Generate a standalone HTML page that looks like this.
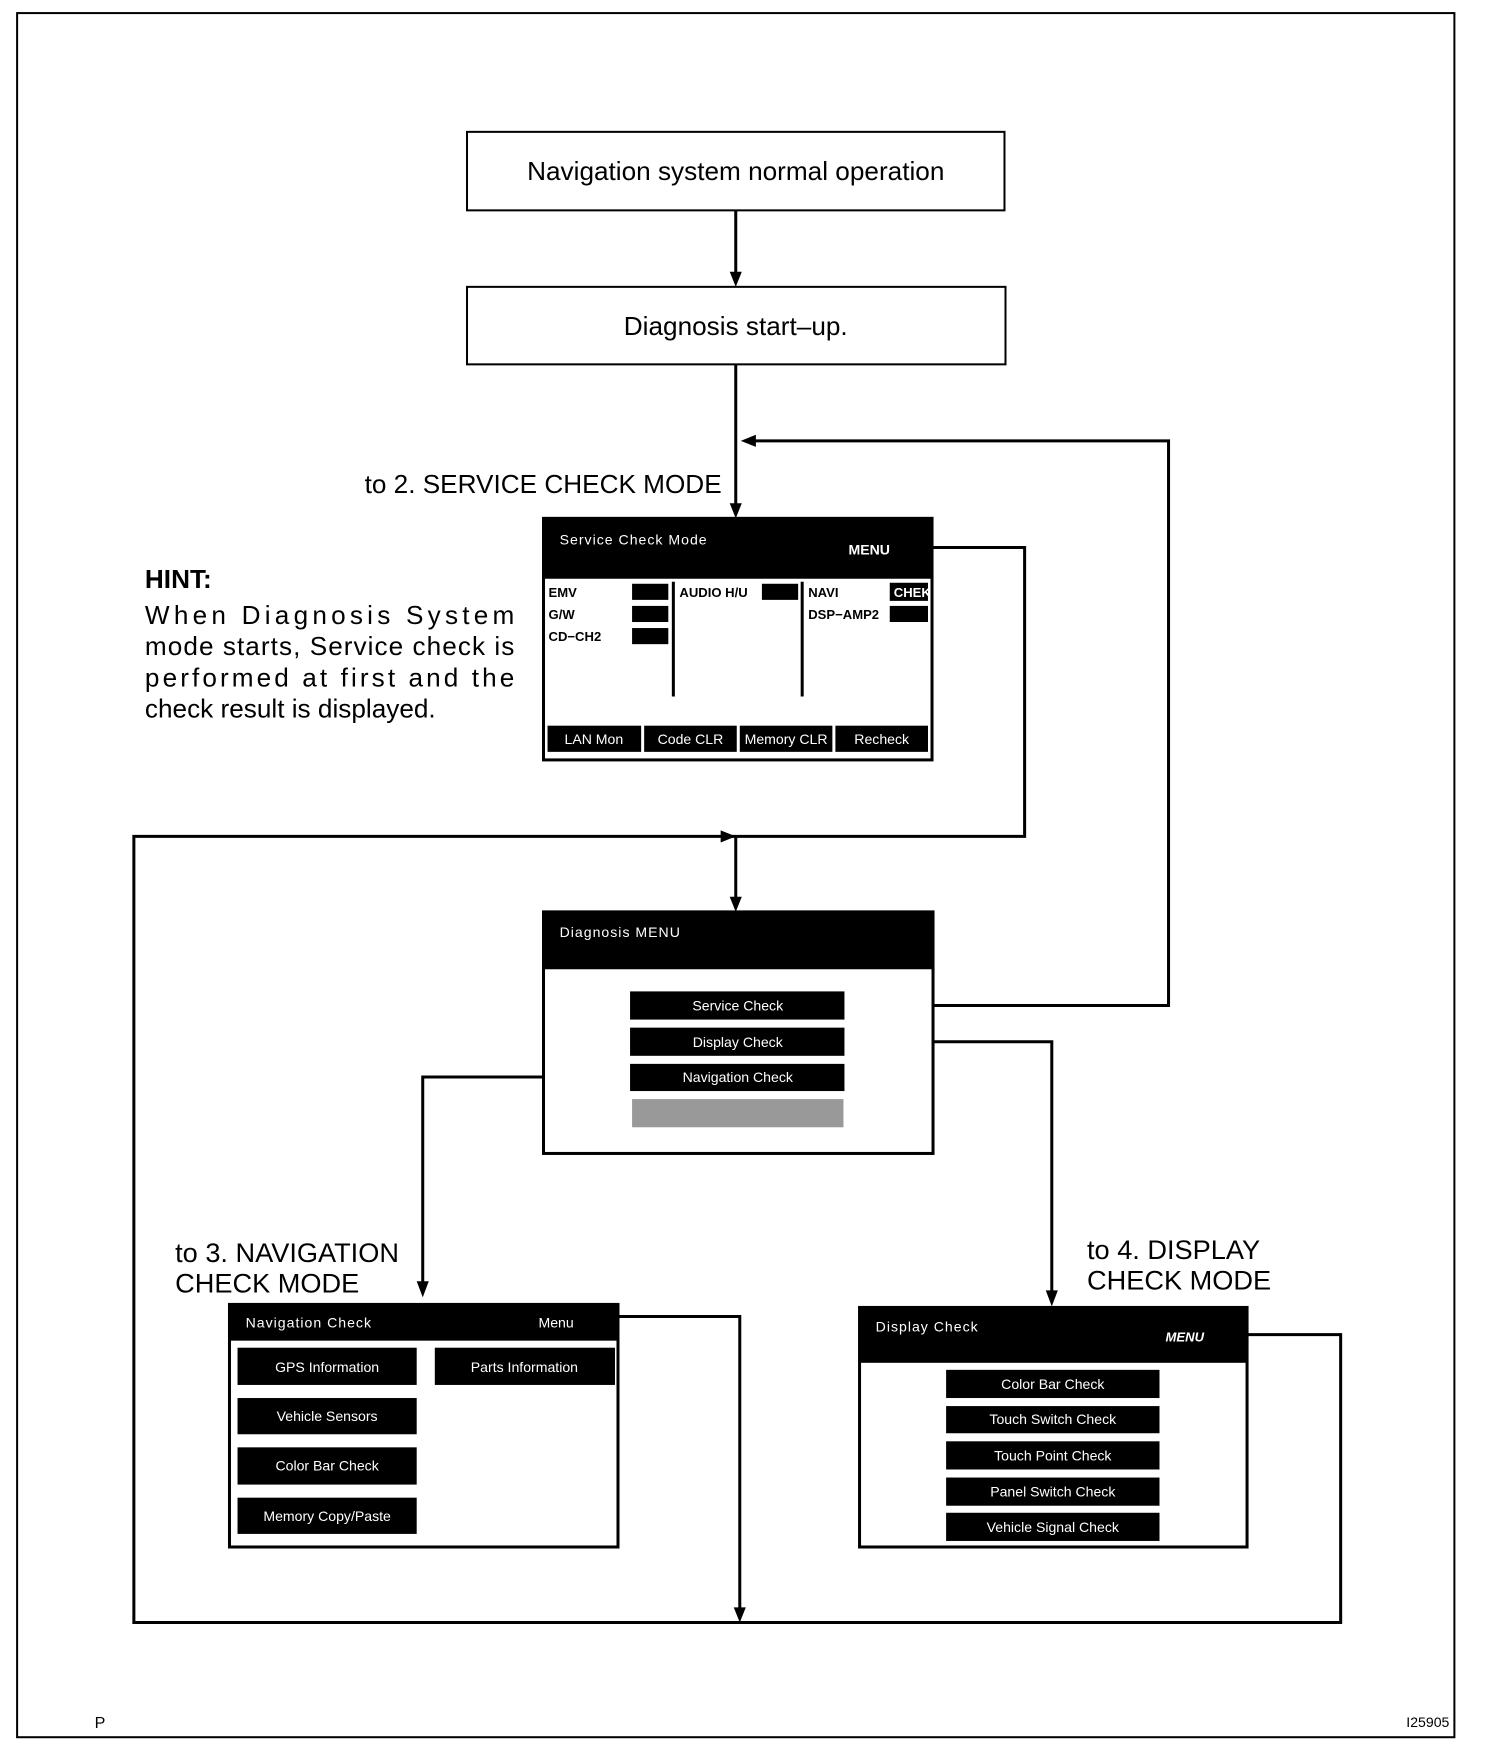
<!DOCTYPE html>
<html><head><meta charset="utf-8"><style>
html,body{margin:0;padding:0;background:#fff;}
svg{display:block;}
text{font-family:"Liberation Sans",sans-serif;}
</style></head><body>
<svg width="1504" height="1754" viewBox="0 0 1504 1754" xmlns="http://www.w3.org/2000/svg">
<g transform="scale(1.0065)">
<rect x="17" y="13" width="1428" height="1713" fill="none" stroke="#000" stroke-width="2"/>

<rect x="464" y="131" width="534" height="78" fill="#fff" stroke="#000" stroke-width="2"/>
<text x="731" y="179" font-size="26" text-anchor="middle">Navigation system normal operation</text>
<rect x="464" y="285" width="535" height="77" fill="#fff" stroke="#000" stroke-width="2"/>
<text x="731" y="333" font-size="26" text-anchor="middle">Diagnosis start–up.</text>

<g stroke="#000" stroke-width="3" fill="none">
<line x1="731" y1="209" x2="731" y2="272"/>
<line x1="731" y1="362" x2="731" y2="502"/>
<polyline points="839,999 1161,999 1161,438 750,438"/>
<polyline points="926,544 1018,544 1018,831 133,831 133,1612 1332,1612 1332,1326 1239,1326"/>
<line x1="731" y1="831" x2="731" y2="893"/>
<polyline points="614,1308 735,1308 735,1598"/>
<polyline points="839,1035 1045,1035 1045,1284"/>
<polyline points="626,1070 420,1070 420,1274"/>
</g>
<g fill="#000">
<polygon points="725,270 737,270 731,285"/>
<polygon points="725,500 737,500 731,515"/>
<polygon points="736,438 751,432 751,444"/>
<polygon points="731,831 716,825 716,837"/>
<polygon points="725,891 737,891 731,906"/>
<polygon points="729,1597 741,1597 735,1612"/>
<polygon points="1039,1282 1051,1282 1045,1298"/>
<polygon points="414,1273 426,1273 420,1289"/>
</g>

<text x="717" y="490" font-size="26" text-anchor="end">to 2. SERVICE CHECK MODE</text>

<text x="144" y="584" font-size="26" font-weight="bold">HINT:</text>
<text x="144" y="620" font-size="26" textLength="367" lengthAdjust="spacing">When Diagnosis System</text>
<text x="144" y="651" font-size="26" textLength="367" lengthAdjust="spacing">mode starts, Service check is</text>
<text x="144" y="682" font-size="26" textLength="367" lengthAdjust="spacing">performed at first and the</text>
<text x="144" y="713" font-size="26">check result is displayed.</text>

<rect x="540" y="515" width="386" height="240" fill="#fff" stroke="#000" stroke-width="3"/>
<rect x="540" y="515" width="386" height="60" fill="#000"/>
<text x="556" y="541" font-size="14" fill="#fff" letter-spacing="1">Service Check Mode</text>
<text x="843" y="551" font-size="14" fill="#fff" font-weight="bold">MENU</text>
<g font-size="13" font-weight="bold">
<text x="545" y="593">EMV</text><text x="545" y="615">G/W</text><text x="545" y="637">CD−CH2</text>
<text x="675" y="593">AUDIO H/U</text>
<text x="803" y="593">NAVI</text><text x="803" y="615">DSP−AMP2</text>
</g>
<g fill="#000">
<rect x="628" y="580" width="36" height="16"/><rect x="628" y="602" width="36" height="16"/><rect x="628" y="624" width="36" height="16"/>
<rect x="757" y="580" width="36" height="16"/>
<rect x="884" y="579" width="38" height="18"/><rect x="884" y="602" width="38" height="16"/>
</g>
<text x="888" y="593" font-size="13" fill="#fff" font-weight="bold">CHEK</text>
<line x1="669" y1="578" x2="669" y2="692" stroke="#000" stroke-width="3"/>
<line x1="797" y1="578" x2="797" y2="692" stroke="#000" stroke-width="3"/>
<g fill="#000"><rect x="544" y="721" width="93" height="26"/><rect x="640" y="721" width="92" height="26"/><rect x="735" y="721" width="92" height="26"/><rect x="830" y="721" width="92" height="26"/></g>
<g font-size="14" fill="#fff" text-anchor="middle">
<text x="590" y="739">LAN Mon</text><text x="686" y="739">Code CLR</text><text x="781" y="739">Memory CLR</text><text x="876" y="739">Recheck</text>
</g>

<rect x="540" y="906" width="387" height="240" fill="#fff" stroke="#000" stroke-width="3"/>
<rect x="540" y="906" width="387" height="57" fill="#000"/>
<text x="556" y="931" font-size="14" fill="#fff" letter-spacing="1">Diagnosis MENU</text>
<g fill="#000"><rect x="626" y="985" width="213" height="28"/><rect x="626" y="1021" width="213" height="28"/><rect x="626" y="1057" width="213" height="27"/></g>
<rect x="628" y="1092" width="210" height="28" fill="#999"/>
<g font-size="14" fill="#fff" text-anchor="middle">
<text x="733" y="1004">Service Check</text><text x="733" y="1040">Display Check</text><text x="733" y="1075">Navigation Check</text>
</g>

<text x="174" y="1254" font-size="27">to 3. NAVIGATION</text>
<text x="174" y="1284" font-size="27">CHECK MODE</text>
<rect x="228" y="1296" width="386" height="241" fill="#fff" stroke="#000" stroke-width="3"/>
<rect x="228" y="1296" width="386" height="36" fill="#000"/>
<text x="244" y="1319" font-size="14" fill="#fff" letter-spacing="1">Navigation Check</text>
<text x="535" y="1319" font-size="14" fill="#fff">Menu</text>
<g fill="#000"><rect x="236" y="1339" width="178" height="37"/><rect x="432" y="1339" width="179" height="37"/><rect x="236" y="1389" width="178" height="36"/><rect x="236" y="1438" width="178" height="37"/><rect x="236" y="1488" width="178" height="36"/></g>
<g font-size="14" fill="#fff" text-anchor="middle">
<text x="325" y="1363">GPS Information</text><text x="521" y="1363">Parts Information</text>
<text x="325" y="1412">Vehicle Sensors</text><text x="325" y="1461">Color Bar Check</text><text x="325" y="1511">Memory Copy/Paste</text>
</g>

<text x="1080" y="1251" font-size="27">to 4. DISPLAY</text>
<text x="1080" y="1281" font-size="27">CHECK MODE</text>
<rect x="854" y="1299" width="385" height="238" fill="#fff" stroke="#000" stroke-width="3"/>
<rect x="854" y="1299" width="385" height="55" fill="#000"/>
<text x="870" y="1323" font-size="14" fill="#fff" letter-spacing="1">Display Check</text>
<text x="1158" y="1333" font-size="13" fill="#fff" font-style="italic" font-weight="bold">MENU</text>
<g fill="#000"><rect x="940" y="1361" width="212" height="28"/><rect x="940" y="1397" width="212" height="27"/><rect x="940" y="1432" width="212" height="28"/><rect x="940" y="1468" width="212" height="28"/><rect x="940" y="1503" width="212" height="28"/></g>
<g font-size="14" fill="#fff" text-anchor="middle">
<text x="1046" y="1380">Color Bar Check</text><text x="1046" y="1415">Touch Switch Check</text><text x="1046" y="1451">Touch Point Check</text><text x="1046" y="1487">Panel Switch Check</text><text x="1046" y="1522">Vehicle Signal Check</text>
</g>

<text x="94" y="1717" font-size="16">P</text>
<text x="1440" y="1716" font-size="14" text-anchor="end">I25905</text>
</g>
</svg>
</body></html>
